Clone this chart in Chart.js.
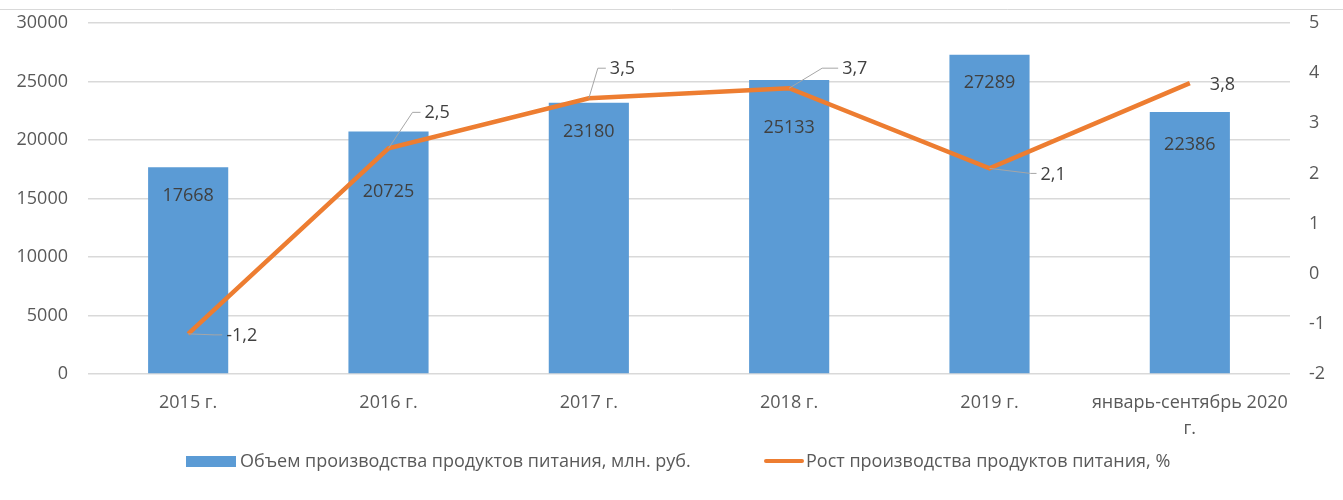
<!DOCTYPE html>
<html>
<head>
<meta charset="utf-8">
<script src="https://cdn.jsdelivr.net/npm/chart.js@4.4.0/dist/chart.umd.min.js"></script>
<style>
  html, body { margin: 0; padding: 0; background: #fff; }
  #wrap { width: 1343px; height: 500px; position: relative; }
</style>
</head>
<body>
<div id="wrap"><canvas id="c" width="1343" height="500"></canvas></div>
<script>
const categories = [
  "2015 г.",
  "2016 г.",
  "2017 г.",
  "2018 г.",
  "2019 г.",
  ["январь-сентябрь 2020", "г."]
];
const volumeValues = [17668, 20725, 23180, 25133, 27289, 22386];
const growthValues = [-1.2, 2.5, 3.5, 3.7, 2.1, 3.8];
const volumeLabel = "Объем производства продуктов питания, млн. руб.";
const growthLabel = "Рост производства продуктов питания, %";
const leftTicks = [0, 5000, 10000, 15000, 20000, 25000, 30000];
const rightTicks = [-2, -1, 0, 1, 2, 3, 4, 5];

const FONT = "'Open Sans', 'Liberation Sans', sans-serif";
const BLUE = "#5B9BD5";
const ORANGE = "#ED7D31";
const TICK_COLOR = "#595959";
const LABEL_COLOR = "#404040";

const fmt = v => String(v).replace('.', ',');

const labelPlugin = {
  id: 'customLabels',
  beforeDraw(chart) {
    const ctx = chart.ctx;
    ctx.save();
    ctx.strokeStyle = '#d9d9d9';
    ctx.lineWidth = 1;
    ctx.beginPath();
    ctx.moveTo(0, 9.5);
    ctx.lineTo(chart.width, 9.5);
    ctx.stroke();
    ctx.restore();
  },
  afterDatasetsDraw(chart, args, opts) {
    const ctx = chart.ctx;
    ctx.save();
    ctx.font = '18px ' + FONT;
    ctx.fillStyle = LABEL_COLOR;
    const barMeta = chart.getDatasetMeta(0);
    barMeta.data.forEach((el, i) => {
      ctx.textAlign = 'center';
      ctx.textBaseline = 'middle';
      ctx.fillText(String(volumeValues[i]), el.x, el.y + opts.barOffsets[i]);
    });
    const lineMeta = chart.getDatasetMeta(1);
    lineMeta.data.forEach((el, i) => {
      const o = opts.lineOffsets[i];
      const lx = el.x + o[0];
      const ly = el.y + o[1];
      if (o[2]) {
        ctx.strokeStyle = '#a6a6a6';
        ctx.lineWidth = 1;
        ctx.beginPath();
        ctx.moveTo(el.x, el.y);
        ctx.lineTo(lx - o[2], ly);
        ctx.lineTo(lx - 4, ly);
        ctx.stroke();
      }
      ctx.textAlign = 'left';
      ctx.textBaseline = 'middle';
      ctx.fillStyle = LABEL_COLOR;
      ctx.fillText(fmt(growthValues[i]), lx, ly + 1);
    });
    ctx.restore();
  },
  afterDraw(chart, args, opts) {
    const ctx = chart.ctx;
    ctx.save();
    ctx.font = '18px ' + FONT;
    ctx.textBaseline = 'middle';
    ctx.textAlign = 'left';
    const y = 461;
    ctx.fillStyle = BLUE;
    ctx.fillRect(186, y - 5, 50, 11);
    ctx.fillStyle = TICK_COLOR;
    ctx.fillText(volumeLabel, 240, y + 1);
    ctx.strokeStyle = ORANGE;
    ctx.lineWidth = 4;
    ctx.lineCap = 'round';
    ctx.beginPath();
    ctx.moveTo(766, y);
    ctx.lineTo(802, y);
    ctx.stroke();
    ctx.fillText(growthLabel, 806, y + 1);
    ctx.restore();
  }
};

function fitVertical(width) {
  return function (scale) {
    scale.width = width;
    scale.paddingTop = 0;
    scale.paddingBottom = 0;
  };
}

new Chart(document.getElementById('c'), {
  type: 'bar',
  data: {
    labels: categories,
    datasets: [
      {
        type: 'bar',
        label: volumeLabel,
        data: volumeValues,
        backgroundColor: BLUE,
        yAxisID: 'y',
        barPercentage: 0.4,
        categoryPercentage: 1.0,
        order: 2
      },
      {
        type: 'line',
        label: growthLabel,
        data: growthValues,
        borderColor: ORANGE,
        backgroundColor: ORANGE,
        borderWidth: 4.5,
        pointRadius: 0,
        tension: 0,
        yAxisID: 'y1',
        order: 1
      }
    ]
  },
  options: {
    responsive: false,
    animation: false,
    layout: { padding: { top: 23, bottom: 0, left: 0, right: 0 } },
    plugins: {
      legend: { display: false },
      tooltip: { enabled: false },
      customLabels: {
        barOffsets: [29, 60, 29, 48, 28, 33],
        lineOffsets: [[38, 1, 12], [36, -36, 12], [21, -30, 12], [53, -20, 20], [51, 5, 10], [20, 1, 0]]
      }
    },
    scales: {
      x: {
        grid: { display: false, drawTicks: false },
        border: { display: false },
        ticks: {
          color: TICK_COLOR,
          font: { family: FONT, size: 18, lineHeight: 1.45 },
          padding: 16,
          maxRotation: 0,
          autoSkip: false
        },
        afterFit(scale) { scale.height = 126; scale.paddingLeft = 0; scale.paddingRight = 0; }
      },
      y: {
        position: 'left',
        min: 0,
        max: 30000,
        afterBuildTicks(scale) { scale.ticks = leftTicks.map(v => ({ value: v })); },
        grid: { color: '#d9d9d9', lineWidth: 1.5, drawTicks: false },
        border: { display: false },
        ticks: {
          color: TICK_COLOR,
          font: { family: FONT, size: 18 },
          padding: 20,
          callback: v => String(v)
        },
        afterFit: fitVertical(88)
      },
      y1: {
        position: 'right',
        min: -2,
        max: 5,
        afterBuildTicks(scale) { scale.ticks = rightTicks.map(v => ({ value: v })); },
        grid: { display: false, drawTicks: false },
        border: { display: false },
        ticks: {
          color: TICK_COLOR,
          font: { family: FONT, size: 18 },
          padding: 19,
          callback: v => String(v)
        },
        afterFit: fitVertical(53)
      }
    }
  },
  plugins: [labelPlugin]
});
</script>
</body>
</html>
